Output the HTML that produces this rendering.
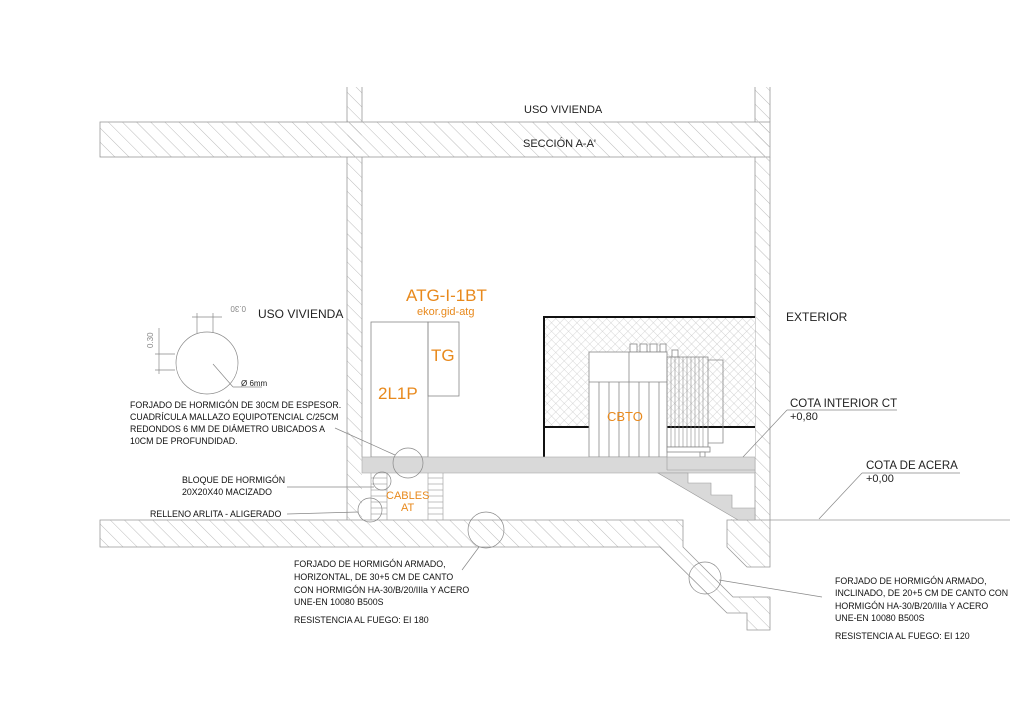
<!DOCTYPE html>
<html><head><meta charset="utf-8"><style>
html,body{margin:0;padding:0;background:#fff;}
svg{display:block;}
text{font-family:"Liberation Sans",sans-serif;}
</style></head><body>
<svg width="1024" height="724" viewBox="0 0 1024 724" xmlns="http://www.w3.org/2000/svg">
<defs>
<pattern id="h" width="10" height="10" patternUnits="userSpaceOnUse" patternTransform="rotate(-45)">
<line x1="0" y1="0" x2="0" y2="10" stroke="#bbb" stroke-width="1"/>
</pattern>
<pattern id="x" width="6" height="6" patternUnits="userSpaceOnUse" patternTransform="rotate(45)">
<rect width="6" height="6" fill="#fff"/>
<line x1="0" y1="0" x2="0" y2="6" stroke="#c4c4c4" stroke-width="0.7"/>
<line x1="0" y1="0" x2="6" y2="0" stroke="#c4c4c4" stroke-width="0.7"/>
</pattern>
</defs>
<g stroke="#999" stroke-width="0.8" fill="url(#h)">
<rect x="100" y="122" width="670" height="35"/>
<polygon points="100,520 683,520 683,547 733,597 770,597 770,630 747,630 747,613 727,613 660,547 100,547"/>
<polygon points="727,520 770,520 770,567 747,567 727,547"/>
</g>
<!-- walls (open at top) -->
<rect x="347" y="87" width="15" height="433" fill="url(#h)"/>
<rect x="755" y="87" width="15" height="433" fill="url(#h)"/>
<g stroke="#999" stroke-width="0.8">
<line x1="347" y1="87" x2="347" y2="122"/><line x1="362" y1="87" x2="362" y2="122"/>
<line x1="347" y1="157" x2="347" y2="520"/><line x1="362" y1="157" x2="362" y2="457"/>
<line x1="755" y1="87" x2="755" y2="122"/><line x1="770" y1="87" x2="770" y2="122"/>
<line x1="755" y1="157" x2="755" y2="520"/><line x1="770" y1="157" x2="770" y2="520"/>
<line x1="770" y1="520" x2="1010" y2="520"/>
</g>
<rect x="348" y="123" width="13" height="33" fill="url(#h)"/>
<rect x="756" y="123" width="13" height="33" fill="url(#h)"/>
<rect x="728" y="519" width="41" height="2" fill="url(#h)"/>

<!-- hatched enclosure -->
<rect x="544" y="317" width="211" height="140" fill="url(#x)"/>
<rect x="545" y="428" width="210" height="29" fill="#fff"/>
<polyline points="544,457 544,317 755,317" fill="none" stroke="#111" stroke-width="2"/>
<line x1="544" y1="427" x2="755" y2="427" stroke="#111" stroke-width="2"/>

<!-- CBTO -->
<g stroke="#888" stroke-width="0.8" fill="#fff">
<rect x="630" y="344" width="7" height="8"/><rect x="640" y="344" width="7" height="8"/><rect x="650" y="344" width="7" height="8"/><rect x="660" y="344" width="6" height="8"/>
<rect x="589" y="352" width="78" height="105"/>
<line x1="589" y1="382" x2="667" y2="382"/>
<line x1="629" y1="352" x2="629" y2="457"/>
<line x1="599" y1="382" x2="599" y2="457"/><line x1="609" y1="382" x2="609" y2="457"/><line x1="619" y1="382" x2="619" y2="457"/>
<line x1="639" y1="382" x2="639" y2="457"/><line x1="649" y1="382" x2="649" y2="457"/><line x1="659" y1="382" x2="659" y2="457"/>
<rect x="672" y="350" width="6" height="7"/>
<rect x="667" y="357" width="41" height="90" fill="none"/>
<rect x="667" y="447" width="43" height="5"/>
<rect x="700" y="452" width="5" height="5"/>
<polyline points="708,360 723,360 723,443 708,443" fill="none"/>
</g>
<g stroke="#888" stroke-width="0.6">
<line x1="671" y1="357" x2="671" y2="447"/><line x1="675" y1="357" x2="675" y2="447"/><line x1="679" y1="357" x2="679" y2="447"/><line x1="683" y1="357" x2="683" y2="447"/><line x1="687" y1="357" x2="687" y2="447"/><line x1="691" y1="357" x2="691" y2="447"/><line x1="695" y1="357" x2="695" y2="447"/><line x1="699" y1="357" x2="699" y2="447"/><line x1="703" y1="357" x2="703" y2="447"/>
</g>

<g stroke="#888" stroke-width="0.8" fill="none">
<rect x="371" y="322" width="57" height="135"/>
<rect x="428" y="322" width="31" height="74"/>
</g>

<rect x="362" y="457" width="393" height="16" fill="#d9d9d9" stroke="#aaa" stroke-width="0.6"/>
<line x1="667" y1="457" x2="667" y2="470" stroke="#999" stroke-width="0.6"/>
<line x1="667" y1="470" x2="755" y2="470" stroke="#999" stroke-width="0.6"/>
<polygon points="658,473 688,473 688,483 711,483 711,495 732,495 732,508 755,508 755,520 738,520" fill="#d9d9d9" stroke="#999" stroke-width="0.6"/>

<g stroke="#999" stroke-width="0.6">
<line x1="371" y1="473" x2="371" y2="520"/><line x1="387" y1="473" x2="387" y2="520"/>
<line x1="428" y1="473" x2="428" y2="520"/><line x1="443" y1="473" x2="443" y2="520"/>
<line x1="371" y1="478" x2="387" y2="478"/><line x1="371" y1="484" x2="387" y2="484"/><line x1="371" y1="490" x2="387" y2="490"/><line x1="371" y1="496" x2="387" y2="496"/><line x1="371" y1="502" x2="387" y2="502"/><line x1="371" y1="508" x2="387" y2="508"/><line x1="371" y1="514" x2="387" y2="514"/>
<line x1="428" y1="478" x2="443" y2="478"/><line x1="428" y1="484" x2="443" y2="484"/><line x1="428" y1="490" x2="443" y2="490"/><line x1="428" y1="496" x2="443" y2="496"/><line x1="428" y1="502" x2="443" y2="502"/><line x1="428" y1="508" x2="443" y2="508"/><line x1="428" y1="514" x2="443" y2="514"/>
</g>

<g stroke="#888" stroke-width="0.7" fill="none">
<circle cx="408" cy="463" r="15"/>
<circle cx="382" cy="481" r="9"/>
<circle cx="370" cy="510" r="12"/>
<circle cx="486" cy="530" r="18"/>
<circle cx="705" cy="578" r="16"/>
<line x1="335" y1="428" x2="395" y2="455"/>
<line x1="287" y1="487" x2="374" y2="487"/>
<line x1="287" y1="514" x2="358" y2="512"/>
<line x1="462" y1="570" x2="479" y2="547"/>
<polyline points="719,580 822,597"/>
<polyline points="787,410 897,410"/><line x1="787" y1="410" x2="743" y2="457"/>
<polyline points="862,473 960,473"/><line x1="862" y1="473" x2="819" y2="519"/>
<circle cx="207" cy="363" r="31"/>
<line x1="197" y1="313" x2="197" y2="333"/><line x1="213" y1="313" x2="213" y2="333"/>
<line x1="192" y1="317" x2="222" y2="317"/>
<line x1="155" y1="354" x2="175" y2="354"/><line x1="155" y1="370" x2="175" y2="370"/>
<line x1="159" y1="328" x2="159" y2="374"/>
<line x1="213" y1="364" x2="233" y2="387"/><line x1="233" y1="387" x2="262" y2="387"/>
</g>

<g fill="#222">
<text x="524" y="113" font-size="11">USO VIVIENDA</text>
<text x="523" y="147" font-size="11">SECCIÓN A-A'</text>
<text x="258" y="318" font-size="12">USO VIVIENDA</text>
<text x="786" y="321" font-size="12">EXTERIOR</text>
<text x="790" y="407" font-size="11.5">COTA INTERIOR CT</text>
<text x="790" y="420" font-size="11">+0,80</text>
<text x="866" y="469" font-size="11.5">COTA DE ACERA</text>
<text x="866" y="482" font-size="11">+0,00</text>
<g font-size="8.8" fill="#111">
<text x="130" y="408">FORJADO DE HORMIGÓN DE 30CM DE ESPESOR.</text>
<text x="130" y="420">CUADRÍCULA MALLAZO EQUIPOTENCIAL C/25CM</text>
<text x="130" y="432">REDONDOS 6 MM DE DIÁMETRO UBICADOS A</text>
<text x="130" y="444">10CM DE PROFUNDIDAD.</text>
<text x="182" y="483">BLOQUE DE HORMIGÓN</text>
<text x="182" y="495">20X20X40 MACIZADO</text>
<text x="150" y="517">RELLENO ARLITA - ALIGERADO</text>
<text x="294" y="567">FORJADO DE HORMIGÓN ARMADO,</text>
<text x="294" y="580">HORIZONTAL, DE 30+5 CM DE CANTO</text>
<text x="294" y="593">CON HORMIGÓN HA-30/B/20/IIIa Y ACERO</text>
<text x="294" y="605">UNE-EN 10080 B500S</text>
<text x="294" y="623">RESISTENCIA AL FUEGO: EI 180</text>
<text x="835" y="584">FORJADO DE HORMIGÓN ARMADO,</text>
<text x="835" y="596">INCLINADO, DE 20+5 CM DE CANTO CON</text>
<text x="835" y="609">HORMIGÓN HA-30/B/20/IIIa Y ACERO</text>
<text x="835" y="621">UNE-EN 10080 B500S</text>
<text x="835" y="639">RESISTENCIA AL FUEGO: EI 120</text>
</g>
<text x="241" y="386" font-size="8">Ø 6mm</text>
<text x="0" y="0" font-size="8" fill="#888" transform="translate(246,306) rotate(180)">0.30</text>
<text x="0" y="0" font-size="8" fill="#888" transform="translate(153,348) rotate(-90)">0.30</text>
</g>
<g fill="#e8891c">
<text x="406" y="301" font-size="17">ATG-I-1BT</text>
<text x="417" y="315" font-size="11">ekor.gid-atg</text>
<text x="431" y="361" font-size="17">TG</text>
<text x="378" y="399" font-size="17">2L1P</text>
<text x="607" y="421" font-size="13">CBTO</text>
<text x="386" y="499" font-size="11">CABLES</text>
<text x="401" y="511" font-size="11">AT</text>
</g>
</svg>
</body></html>
